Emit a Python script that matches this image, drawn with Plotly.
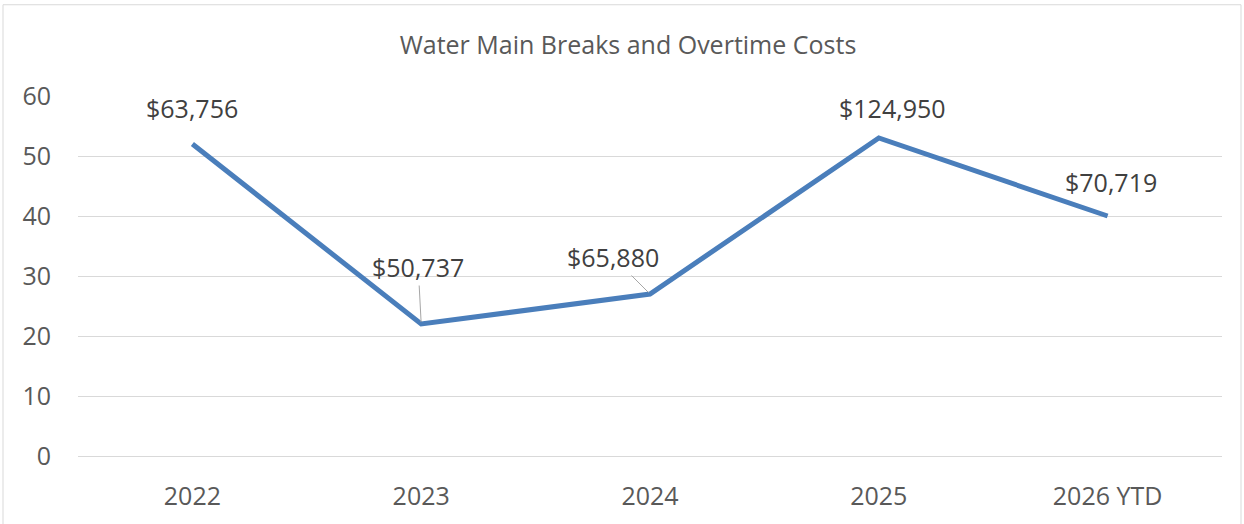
import plotly.graph_objects as go

categories = ["2022", "2023", "2024", "2025", "2026 YTD"]
breaks = [52, 22, 27, 53, 40]
cost_labels = ["$63,756", "$50,737", "$65,880", "$124,950", "$70,719"]
y_ticks = [0, 10, 20, 30, 40, 50, 60]

W, H = 1244, 524
ML, MR, MT, MB = 78, 22, 96, 65
pw, ph = W - ML - MR, H - MT - MB

FONT = "'Open Sans', sans-serif"
TXT = "#595959"

fig = go.Figure()
fig.add_trace(go.Scatter(
    x=list(range(len(categories))), y=breaks, mode="lines",
    line=dict(color="#4a7ebb", width=5),
    hoverinfo="skip", showlegend=False,
))

# label offsets (pixels) and whether a leader line is shown
offsets = [(0, -36, False), (-3, -57, True), (-37, -37, True), (14, -30, False), (3, -34, False)]
for i, (val, lab, (ax, ay, lead)) in enumerate(zip(breaks, cost_labels, offsets)):
    if lead:
        fig.add_annotation(x=i, y=val, xref="x", yref="y", text=lab,
                           showarrow=True, ax=ax, ay=ay, arrowhead=0, arrowwidth=1,
                           arrowcolor="#a6a6a6", standoff=2,
                           font=dict(family=FONT, size=25, color="#404040"))
    else:
        fig.add_annotation(x=i, y=val, xref="x", yref="y", text=lab,
                           showarrow=False, xshift=ax, yshift=-ay,
                           font=dict(family=FONT, size=25, color="#404040"))

# chart border
fig.add_shape(type="rect", xref="paper", yref="paper",
              x0=(3 - ML) / pw, x1=(W - 3 - ML) / pw,
              y0=-(MB + 5) / ph, y1=1 + (MT - 4) / ph,
              line=dict(color="#d9d9d9", width=1), fillcolor="rgba(0,0,0,0)", layer="below")

fig.update_layout(
    width=W, height=H,
    margin=dict(l=ML, r=MR, t=MT, b=MB),
    paper_bgcolor="white", plot_bgcolor="white",
    title=dict(text="Water Main Breaks and Overtime Costs", x=628 / W, xref="container",
               xanchor="center", y=1 - 45 / H, yanchor="middle",
               font=dict(family=FONT, size=25, color=TXT)),
    xaxis=dict(range=[-0.5, 4.5], tickvals=list(range(len(categories))), ticktext=categories,
               showgrid=False, showline=False,
               zeroline=False, ticks="", ticklabelstandoff=23,
               tickfont=dict(family=FONT, size=25, color=TXT)),
    yaxis=dict(range=[0, 60], tickvals=y_ticks, showgrid=True, gridcolor="#d9d9d9",
               gridwidth=1, zeroline=True, zerolinecolor="#d9d9d9", zerolinewidth=1,
               showline=False, ticks="", ticklabelstandoff=26,
               tickfont=dict(family=FONT, size=25, color=TXT)),
)

fig.write_html("out.html", config={"displayModeBar": False},
               post_script="document.body.style.margin='0';")
